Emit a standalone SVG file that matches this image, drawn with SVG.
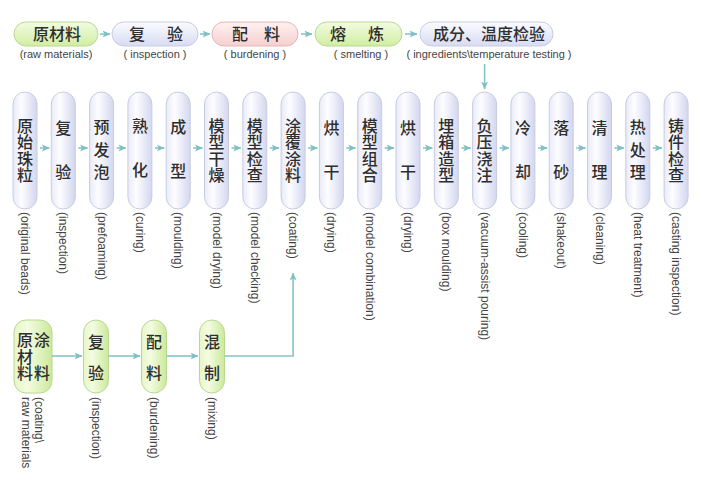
<svg xmlns="http://www.w3.org/2000/svg" width="710" height="491" viewBox="0 0 710 491">
<defs>
<linearGradient id="gLavV" x1="0" y1="0" x2="0" y2="1"><stop offset="0" stop-color="#fbfbff"/><stop offset="1" stop-color="#d8dcf3"/></linearGradient>
<linearGradient id="gGreenV" x1="0" y1="0" x2="0" y2="1"><stop offset="0" stop-color="#f3fbe2"/><stop offset="1" stop-color="#d0eea2"/></linearGradient>
<linearGradient id="gPinkV" x1="0" y1="0" x2="0" y2="1"><stop offset="0" stop-color="#fff2f1"/><stop offset="1" stop-color="#f6cfcf"/></linearGradient>
<linearGradient id="gLavH" x1="0" y1="0" x2="1" y2="0"><stop offset="0" stop-color="#e8eaf9"/><stop offset="0.35" stop-color="#fdfdff"/><stop offset="1" stop-color="#d3d7ef"/></linearGradient>
<linearGradient id="gGreenH" x1="0" y1="0" x2="1" y2="0"><stop offset="0" stop-color="#e6f6c6"/><stop offset="0.35" stop-color="#f4fce2"/><stop offset="1" stop-color="#cbe99a"/></linearGradient>
<marker id="ah" viewBox="0 0 8 8" refX="7.5" refY="4" markerWidth="8" markerHeight="8" orient="auto" markerUnits="userSpaceOnUse"><path d="M0,0.5 L8,4 L0,7.5 L2,4 Z" fill="#7fc0c2"/></marker>
</defs>
<style>
.cn{font-family:"Noto Sans CJK SC","Noto Sans",sans-serif;font-size:16px;fill:#2e2e2e;text-anchor:middle;font-weight:500}
.v{font-family:"Noto Sans CJK SC","Noto Sans",sans-serif;font-size:16px;fill:#2e2e2e;font-weight:500;writing-mode:vertical-rl;text-anchor:start}
.v4{letter-spacing:0.5px}
.v3{letter-spacing:6.5px}
.v2{letter-spacing:28px}
.vb{letter-spacing:15px}
.en{font-family:"Liberation Sans",Arial,sans-serif;font-size:11px;fill:#444;text-anchor:middle}
.rt{font-family:"Liberation Sans",Arial,sans-serif;font-size:12px;fill:#444;dominant-baseline:central}
.lav{fill:url(#gLavV);stroke:#c8cce2;stroke-width:1}
.grn{fill:url(#gGreenV);stroke:#b8d892;stroke-width:1}
.pnk{fill:url(#gPinkV);stroke:#e5b6b6;stroke-width:1}
.vp{fill:url(#gLavH);stroke:#c9cce0;stroke-width:1}
.vg{fill:url(#gGreenH);stroke:#b8d892;stroke-width:1}
.ar{stroke:#86c5c7;stroke-width:1.6;fill:none;marker-end:url(#ah)}
</style>
<rect width="710" height="491" fill="#ffffff"/>

<!-- top row -->
<g id="t1"><rect class="grn" x="14" y="22" width="84" height="24" rx="12"/><text class="cn" x="57" y="39.5">原材料</text><text class="en" x="56" y="58">(raw materials)</text></g>
<g id="t2"><rect class="lav" x="112" y="22" width="86" height="24" rx="12"/><text class="cn" y="39.5"><tspan x="137">复</tspan><tspan x="175">验</tspan></text><text class="en" x="155" y="58">( inspection )</text></g>
<g id="t3"><rect class="pnk" x="212" y="22" width="86" height="24" rx="12"/><text class="cn" y="39.5"><tspan x="240">配</tspan><tspan x="272">料</tspan></text><text class="en" x="255" y="58">( burdening )</text></g>
<g id="t4"><rect class="grn" x="315" y="22" width="87" height="24" rx="12"/><text class="cn" y="39.5"><tspan x="338">熔</tspan><tspan x="376">炼</tspan></text><text class="en" x="361" y="58">( smelting )</text></g>
<g id="t5"><rect class="lav" x="420" y="22" width="133" height="24" rx="12"/><text class="cn" x="489" y="39.5">成分、温度检验</text><text class="en" x="489" y="58">( ingredients\temperature testing )</text></g>

<!-- middle row -->
<g id="m0"><rect class="vp" x="13" y="92" width="24" height="117" rx="12"/><text class="v v4" x="25" y="117.5">原始珠粒</text><text class="rt" transform="translate(25,212) rotate(90)">(original beads)</text></g>
<g id="m1"><rect class="vp" x="51.3" y="92" width="24" height="117" rx="12"/><text class="v v2" x="63.3" y="120">复验</text><text class="rt" transform="translate(63.3,212) rotate(90)">(inspection)</text></g>
<g id="m2"><rect class="vp" x="89.6" y="92" width="24" height="117" rx="12"/><text class="v v3" x="101.6" y="119">预发泡</text><text class="rt" transform="translate(101.6,212) rotate(90)">(prefoaming)</text></g>
<g id="m3"><rect class="vp" x="127.9" y="92" width="24" height="117" rx="12"/><text class="v v2" x="139.9" y="118">熟化</text><text class="rt" transform="translate(139.9,212) rotate(90)">(curing)</text></g>
<g id="m4"><rect class="vp" x="166.2" y="92" width="24" height="117" rx="12"/><text class="v v2" x="178.2" y="119">成型</text><text class="rt" transform="translate(178.2,212) rotate(90)">(moulding)</text></g>
<g id="m5"><rect class="vp" x="204.5" y="92" width="24" height="117" rx="12"/><text class="v v4" x="216.5" y="117.5">模型干燥</text><text class="rt" transform="translate(216.5,212) rotate(90)">(model drying)</text></g>
<g id="m6"><rect class="vp" x="242.8" y="92" width="24" height="117" rx="12"/><text class="v v4" x="254.8" y="117.5">模型检查</text><text class="rt" transform="translate(254.8,212) rotate(90)">(model checking)</text></g>
<g id="m7"><rect class="vp" x="281.1" y="92" width="24" height="117" rx="12"/><text class="v v4" x="293.1" y="117.5">涂覆涂料</text><text class="rt" transform="translate(293.1,212) rotate(90)">(coating)</text></g>
<g id="m8"><rect class="vp" x="319.4" y="92" width="24" height="117" rx="12"/><text class="v v2" x="331.4" y="120">烘干</text><text class="rt" transform="translate(331.4,212) rotate(90)">(drying)</text></g>
<g id="m9"><rect class="vp" x="357.7" y="92" width="24" height="117" rx="12"/><text class="v v4" x="369.7" y="117.5">模型组合</text><text class="rt" transform="translate(369.7,212) rotate(90)">(model combination)</text></g>
<g id="m10"><rect class="vp" x="396" y="92" width="24" height="117" rx="12"/><text class="v v2" x="408" y="120">烘干</text><text class="rt" transform="translate(408,212) rotate(90)">(drying)</text></g>
<g id="m11"><rect class="vp" x="434.3" y="92" width="24" height="117" rx="12"/><text class="v v4" x="446.3" y="117.5">埋箱造型</text><text class="rt" transform="translate(446.3,212) rotate(90)">(box moulding)</text></g>
<g id="m12"><rect class="vp" x="472.6" y="92" width="24" height="117" rx="12"/><text class="v v4" x="484.6" y="117.5">负压浇注</text><text class="rt" transform="translate(484.6,212) rotate(90)">(vacuum-assist pouring)</text></g>
<g id="m13"><rect class="vp" x="510.9" y="92" width="24" height="117" rx="12"/><text class="v v2" x="522.9" y="120">冷却</text><text class="rt" transform="translate(522.9,212) rotate(90)">(cooling)</text></g>
<g id="m14"><rect class="vp" x="549.2" y="92" width="24" height="117" rx="12"/><text class="v v2" x="561.2" y="120">落砂</text><text class="rt" transform="translate(561.2,212) rotate(90)">(shakeout)</text></g>
<g id="m15"><rect class="vp" x="587.5" y="92" width="24" height="117" rx="12"/><text class="v v2" x="599.5" y="120">清理</text><text class="rt" transform="translate(599.5,212) rotate(90)">(cleaning)</text></g>
<g id="m16"><rect class="vp" x="625.8" y="92" width="24" height="117" rx="12"/><text class="v v3" x="637.8" y="119">热处理</text><text class="rt" transform="translate(637.8,212) rotate(90)">(heat treatment)</text></g>
<g id="m17"><rect class="vp" x="664.1" y="92" width="24" height="117" rx="12"/><text class="v v4" x="676.1" y="117.5">铸件检查</text><text class="rt" transform="translate(676.1,212) rotate(90)">(casting inspection)</text></g>

<!-- bottom row -->
<g id="b1"><rect class="vg" x="14" y="320" width="38" height="73" rx="12"/><text class="v v4" x="25" y="332">原材料</text><text class="v" style="letter-spacing:17px" x="42" y="332">涂料</text><text class="rt" transform="translate(39,397) rotate(90)">(coating\</text><text class="rt" transform="translate(26,397) rotate(90)">raw materials</text></g>
<g id="b2"><rect class="vg" x="83.5" y="320" width="25" height="73" rx="12.5"/><text class="v vb" x="96" y="334">复验</text><text class="rt" transform="translate(96,397) rotate(90)">(inspection)</text></g>
<g id="b3"><rect class="vg" x="141.5" y="320" width="25" height="73" rx="12.5"/><text class="v vb" x="154" y="334">配料</text><text class="rt" transform="translate(154,397) rotate(90)">(burdening)</text></g>
<g id="b4"><rect class="vg" x="199.5" y="320" width="25" height="73" rx="12.5"/><text class="v vb" x="212" y="334">混制</text><text class="rt" transform="translate(212,397) rotate(90)">(mixing)</text></g>

<!-- connectors -->
<g id="connectors">
<line class="ar" x1="100" y1="34" x2="110" y2="34"/>
<line class="ar" x1="200" y1="34" x2="210" y2="34"/>
<line class="ar" x1="301" y1="34" x2="312" y2="34"/>
<line class="ar" x1="405" y1="34" x2="417" y2="34"/>
<line class="ar" x1="484.6" y1="64" x2="484.6" y2="89"/>
<line class="ar" x1="40" y1="148" x2="49.3" y2="148"/>
<line class="ar" x1="78.3" y1="148" x2="87.6" y2="148"/>
<line class="ar" x1="116.6" y1="148" x2="125.9" y2="148"/>
<line class="ar" x1="154.9" y1="148" x2="164.2" y2="148"/>
<line class="ar" x1="193.2" y1="148" x2="202.5" y2="148"/>
<line class="ar" x1="231.5" y1="148" x2="240.8" y2="148"/>
<line class="ar" x1="269.8" y1="148" x2="279.1" y2="148"/>
<line class="ar" x1="308.1" y1="148" x2="317.4" y2="148"/>
<line class="ar" x1="346.4" y1="148" x2="355.7" y2="148"/>
<line class="ar" x1="384.7" y1="148" x2="394" y2="148"/>
<line class="ar" x1="423" y1="148" x2="432.3" y2="148"/>
<line class="ar" x1="461.3" y1="148" x2="470.6" y2="148"/>
<line class="ar" x1="499.6" y1="148" x2="508.9" y2="148"/>
<line class="ar" x1="537.9" y1="148" x2="547.2" y2="148"/>
<line class="ar" x1="576.2" y1="148" x2="585.5" y2="148"/>
<line class="ar" x1="614.5" y1="148" x2="623.8" y2="148"/>
<line class="ar" x1="652.8" y1="148" x2="662.1" y2="148"/>
<line class="ar" x1="52" y1="356" x2="82" y2="356"/>
<line class="ar" x1="108.5" y1="356" x2="140" y2="356"/>
<line class="ar" x1="166.5" y1="356" x2="198" y2="356"/>
<polyline class="ar" points="224.5,356 293.1,356 293.1,273"/>
</g>
</svg>
